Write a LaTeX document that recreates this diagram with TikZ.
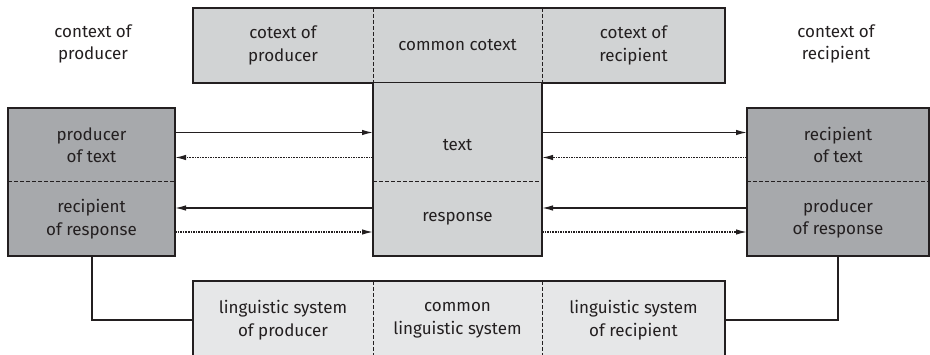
\documentclass[tikz,border=0pt]{standalone}
\usepackage{fontspec}
\setmainfont{Fira Sans}
\usepackage{xcolor}
\usetikzlibrary{arrows.meta}
\definecolor{darkcell}{HTML}{A7A9AC}
\definecolor{midcell}{HTML}{D1D3D4}
\definecolor{lightcell}{HTML}{E6E7E8}
\definecolor{ink}{HTML}{231F20}
\tikzset
  {cell/.style={rectangle, inner sep=0pt, outer sep=0pt, align=center, text=ink,
                font=\fontsize{17}{22.5}\selectfont},
   plain/.style={inner sep=0pt, align=center, text=ink, font=\fontsize{17}{22.5}\selectfont},
   frame/.style={draw=ink, line width=2pt},
   divider/.style={draw=ink, line width=1pt, dashed, dash pattern=on 4pt off 2pt},
   flow/.style={draw=ink, line width=1.3pt, -{Latex[length=11pt,width=5.5pt]}},
   back/.style={flow, dash pattern=on 1.6pt off 1pt}}

\begin{document}
\begin{tikzpicture}[x=1pt,y=-1pt]
 \useasboundingbox (0,0) rectangle (930,355);

 % contexts
 \node[plain] (ctxprod) at (93,44) {context of\\producer};
 \node[plain] (ctxrec)  at (836,44) {context of\\recipient};

 % cotexts
 \node[cell,fill=midcell,minimum width=180pt,minimum height=75pt] (cotprod) at (283,45.5)
      {cotext of\\producer};
 \node[cell,fill=midcell,minimum width=169pt,minimum height=75pt] (cotcom) at (457.5,45.5)
      {common cotext};
 \node[cell,fill=midcell,minimum width=183pt,minimum height=75pt] (cotrec) at (633.5,45.5)
      {cotext of\\recipient};
 \draw[frame] (cotprod.north west) rectangle (cotrec.south east);
 \draw[divider] (cotprod.north east) -- (cotprod.south east);
 \draw[divider] (cotrec.north west) -- (cotrec.south west);

 % text and response
 \fill[midcell] (cotcom.south west) rectangle (457.5+84.5,108);
 \node[cell,fill=midcell,minimum width=169pt,minimum height=74pt] (txt)  at (457.5,145) {text};
 \node[cell,fill=midcell,minimum width=169pt,minimum height=74pt] (resp) at (457.5,219) {response};
 \draw[frame] (cotcom.south west) -- (resp.south west) -- (resp.south east) -- (cotcom.south east);
 \draw[divider] (resp.north west) -- (resp.north east);

 % producer side
 \node[cell,fill=darkcell,minimum width=167pt,minimum height=74pt] (ptext) at (91.5,145)
      {producer\\of text};
 \node[cell,fill=darkcell,minimum width=167pt,minimum height=74pt] (rresp) at (91.5,219)
      {recipient\\of response};
 \draw[frame] (ptext.north west) rectangle (rresp.south east);
 \draw[divider] (rresp.north west) -- (rresp.north east);

 % recipient side
 \node[cell,fill=darkcell,minimum width=182pt,minimum height=74pt] (rtext) at (838,145)
      {recipient\\of text};
 \node[cell,fill=darkcell,minimum width=182pt,minimum height=74pt] (presp) at (838,219)
      {producer\\of response};
 \draw[frame] (rtext.north west) rectangle (presp.south east);
 \draw[divider] (presp.north west) -- (presp.north east);

 % linguistic systems
 \node[cell,fill=lightcell,minimum width=180pt,minimum height=78pt] (lsprod) at (283,320)
      {linguistic system\\of producer};
 \node[cell,fill=lightcell,minimum width=169pt,minimum height=78pt] (lscom) at (457.5,320)
      {common\\linguistic system};
 \node[cell,fill=lightcell,minimum width=183pt,minimum height=78pt] (lsrec) at (633.5,320)
      {linguistic system\\of recipient};
 \draw[frame] (lsprod.south west) -- (lsprod.north west) -- (lsrec.north east) -- (lsrec.south east);
 \draw[divider] (lsprod.north east) -- (lsprod.south east);
 \draw[divider] (lsrec.north west) -- (lsrec.south west);

 % arrows
 \draw[flow] ([yshift=12.5pt]ptext.east) -- ([yshift=12.5pt]ptext.east -| txt.west);
 \draw[back] ([yshift=-12.5pt]ptext.east -| txt.west) -- ([yshift=-12.5pt]ptext.east);
 \draw[flow] ([yshift=12.5pt]txt.east) -- ([yshift=12.5pt]txt.east -| rtext.west);
 \draw[back] ([yshift=-12.5pt]rtext.west) -- ([yshift=-12.5pt]rtext.west -| txt.east);
 \draw[flow] ([yshift=11pt]resp.west) -- ([yshift=11pt]resp.west -| rresp.east);
 \draw[back] ([yshift=-13pt]rresp.east) -- ([yshift=-13pt]rresp.east -| resp.west);
 \draw[flow] ([yshift=11pt]presp.west) -- ([yshift=11pt]presp.west -| resp.east);
 \draw[back] ([yshift=-13pt]resp.east) -- ([yshift=-13pt]resp.east -| presp.west);

 % links to linguistic systems
 \draw[frame] (rresp.south) |- (lsprod.west);
 \draw[frame] (presp.south) |- (lsrec.east);
\end{tikzpicture}
\end{document}
